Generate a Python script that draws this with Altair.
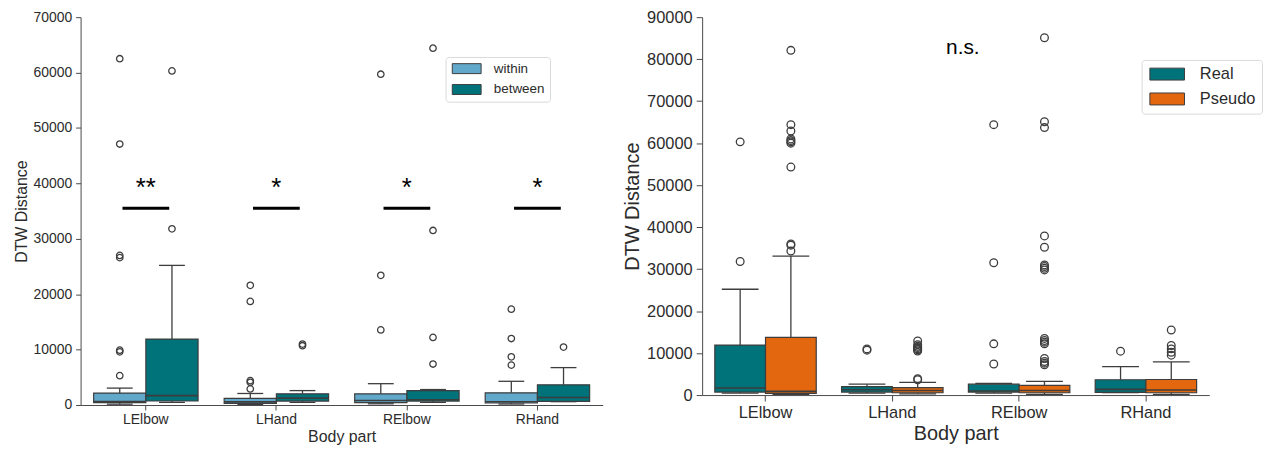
import altair as alt
import pandas as pd

FONT = "Liberation Sans"
DARK = "#3d3d3d"
AXC = "#4a4a4a"
TXT = "#2b2b2b"

parts = ["LElbow", "LHand", "RElbow", "RHand"]

# ---------- left panel: within vs between ----------
left_groups = ["within", "between"]
left_colors = ["#62a8ca", "#00727a"]

within_lo = [150, 100, 220, 180]
within_q1 = [420, 280, 420, 360]
within_med = [620, 560, 820, 600]
within_q3 = [2150, 1200, 2020, 2200]
within_hi = [3050, 2080, 3850, 4280]
within_out = {
    "LElbow": [5300, 9600, 9900, 26600, 27000, 47100, 62500],
    "LHand": [2900, 4100, 4400, 18700, 21600],
    "RElbow": [13550, 23400, 59700],
    "RHand": [7200, 8700, 12000, 17300],
}

between_lo = [480, 480, 480, 600]
between_q1 = [720, 710, 710, 650]
between_med = [1700, 1250, 950, 1350]
between_q3 = [11900, 2020, 2600, 3650]
between_hi = [25200, 2600, 2790, 6750]
between_out = {
    "LElbow": [31800, 60300],
    "LHand": [10700, 11000],
    "RElbow": [7400, 12200, 31500, 64400],
    "RHand": [10450],
}

sig_labels = ["**", "*", "*", "*"]
sig_line_y = [35500, 35500, 35500, 35500]
sig_star_y = [37800, 37800, 37800, 37800]

# ---------- right panel: Real vs Pseudo ----------
right_groups = ["Real", "Pseudo"]
right_colors = ["#00727a", "#e2670f"]

real_lo = between_lo
real_q1 = between_q1
real_med = between_med
real_q3 = between_q3
real_hi = between_hi
real_out = between_out

pseudo_lo = [160, 300, 160, 160]
pseudo_q1 = [400, 550, 550, 550]
pseudo_med = [870, 1100, 1100, 1200]
pseudo_q3 = [13750, 1750, 2300, 3700]
pseudo_hi = [33100, 3000, 3250, 7900]
pseudo_out = {
    "LElbow": [34300, 35700, 36000, 54300, 60000, 60300, 60600, 61000, 62900, 64400, 82100],
    "LHand": [3650, 3900, 10500, 10800, 11000, 11300, 11600, 12000, 12900],
    "RElbow": [7200, 7600, 8000, 8700, 12200, 12600, 13000, 13500, 29800, 30200, 30600,
               31000, 35200, 37900, 63700, 65100, 85100],
    "RHand": [9500, 10200, 11000, 11800, 15500],
}

ns_label = ["n.s."]
ns_part = ["LHand"]
ns_y = [81300]


def box_table(groups, stats):
    rows = []
    for g, (lo, q1, med, q3, hi) in zip(groups, stats):
        for i, p in enumerate(parts):
            rows.append(dict(part=p, group=g, lo=lo[i], q1=q1[i], med=med[i], q3=q3[i], hi=hi[i]))
    return pd.DataFrame(rows)


def out_table(groups, outs):
    rows = []
    for g, o in zip(groups, outs):
        for p in parts:
            for v in o[p]:
                rows.append(dict(part=p, group=g, value=v))
    return pd.DataFrame(rows)


LEG_PATH = "M-1,-1H4.8V1H-1Z"


def panel(box_df, out_df, groups, colors, ymax, fs_lab, fs_title, cap_w,
          pt_size, tick, lab_pad, title_pad_y, title_pad_x, leg):
    xs = alt.Scale(domain=parts, paddingInner=0.2, paddingOuter=0.1)
    xaxis = alt.Axis(labelAngle=0, labelFontSize=fs_lab, labelColor=TXT, labelFont=FONT,
                     titleFontSize=fs_title, titleColor=TXT, titleFont=FONT,
                     titleFontWeight="normal", domainColor=AXC, tickColor=AXC,
                     tickSize=tick, labelPadding=lab_pad, titlePadding=title_pad_x,
                     grid=False)
    x = alt.X("part:N", scale=xs, axis=xaxis, title="Body part")
    xo = alt.XOffset("group:N", scale=alt.Scale(domain=groups, paddingInner=0, paddingOuter=0))
    ys = alt.Scale(domain=[0, ymax], nice=False, zero=True)
    yaxis = alt.Axis(values=list(range(0, ymax + 1, 10000)), format="d", grid=False,
                     labelFontSize=fs_lab, labelColor=TXT, labelFont=FONT,
                     titleFontSize=fs_title, titleColor=TXT, titleFont=FONT,
                     titleFontWeight="normal", domainColor=AXC, tickColor=AXC,
                     tickSize=tick, labelPadding=4, titlePadding=title_pad_y)
    base = alt.Chart(box_df)
    lower = base.mark_rule(color=DARK, strokeWidth=1.3, opacity=1).encode(
        x=x, xOffset=xo, y=alt.Y("lo:Q", scale=ys, axis=yaxis, title="DTW Distance"), y2="q1:Q")
    upper = base.mark_rule(color=DARK, strokeWidth=1.3, opacity=1).encode(
        x=x, xOffset=xo, y=alt.Y("q3:Q"), y2="hi:Q")
    cap_lo = base.mark_tick(color=DARK, size=cap_w, thickness=1.3, opacity=1).encode(
        x=x, xOffset=xo, y=alt.Y("lo:Q"))
    cap_hi = base.mark_tick(color=DARK, size=cap_w, thickness=1.3, opacity=1).encode(
        x=x, xOffset=xo, y=alt.Y("hi:Q"))
    box = base.mark_bar(stroke=DARK, strokeWidth=1.2, opacity=1).encode(
        x=x, xOffset=xo, y=alt.Y("q1:Q"), y2="q3:Q",
        color=alt.Color("group:N", scale=alt.Scale(domain=groups, range=colors), legend=leg))
    med = base.mark_tick(color=DARK, thickness=1.6, opacity=1).encode(
        x=x, xOffset=xo, y=alt.Y("med:Q"))
    pts = alt.Chart(out_df).mark_point(shape="circle", filled=False, color=DARK,
                                        size=pt_size, strokeWidth=1.3, opacity=1).encode(
        x=x, xOffset=xo, y=alt.Y("value:Q"))
    return [lower, upper, cap_lo, cap_hi, box, med, pts], x


left_box = box_table(left_groups, [
    (within_lo, within_q1, within_med, within_q3, within_hi),
    (between_lo, between_q1, between_med, between_q3, between_hi)])
left_out = out_table(left_groups, [within_out, between_out])

right_box = box_table(right_groups, [
    (real_lo, real_q1, real_med, real_q3, real_hi),
    (pseudo_lo, pseudo_q1, pseudo_med, pseudo_q3, pseudo_hi)])
right_out = out_table(right_groups, [real_out, pseudo_out])

left_leg = alt.Legend(title=None, orient="none", legendX=367, legendY=40,
                      fillColor="white", strokeColor="#d9d9d9", cornerRadius=3, padding=5,
                      labelFontSize=13.5, labelFont=FONT, labelColor=TXT,
                      symbolType=LEG_PATH, symbolSize=100, symbolStrokeColor=DARK,
                      symbolStrokeWidth=1, symbolOpacity=1, labelOffset=30, rowPadding=6)
right_leg = alt.Legend(title=None, orient="none", legendX=442, legendY=43,
                       fillColor="white", strokeColor="#d9d9d9", cornerRadius=3, padding=6,
                       labelFontSize=16.5, labelFont=FONT, labelColor=TXT,
                       symbolType=LEG_PATH, symbolSize=144, symbolStrokeColor=DARK,
                       symbolStrokeWidth=1, symbolOpacity=1, labelOffset=36, rowPadding=8)

l_layers, lx = panel(left_box, left_out, left_groups, left_colors, 70000,
                     14, 16, 26, 42, 5, 3, 3, 2, left_leg)
sig_df = pd.DataFrame(dict(part=parts, label=sig_labels, line_y=sig_line_y, star_y=sig_star_y))
sig_line = alt.Chart(sig_df).mark_tick(color="black", size=47, thickness=3, opacity=1).encode(
    x=lx, y=alt.Y("line_y:Q"))
sig_star = alt.Chart(sig_df).mark_text(color="black", fontSize=26, font=FONT,
                                       baseline="alphabetic").encode(
    x=lx, y=alt.Y("star_y:Q"), text="label:N")
left = alt.layer(*l_layers, sig_line, sig_star).properties(width=525, height=390)

r_layers, rx = panel(right_box, right_out, right_groups, right_colors, 90000,
                     16.5, 20, 37, 60, 6, 4, 4, 2, right_leg)
ns_df = pd.DataFrame(dict(part=ns_part, label=ns_label, y=ns_y))
ns_text = alt.Chart(ns_df).mark_text(color="black", fontSize=21, font=FONT, align="left",
                                     baseline="alphabetic", dx=54).encode(
    x=rx, y=alt.Y("y:Q"), text="label:N")
right = alt.layer(*r_layers, ns_text).properties(width=510, height=380)

chart = alt.hconcat(left, right, spacing=20).resolve_scale(
    color="independent", x="independent", y="independent", xOffset="independent"
).properties(
    padding={"left": 6, "top": 0, "right": 0, "bottom": 0}
).configure(font=FONT).configure_view(stroke="transparent", strokeWidth=0)

chart.save("out.html", embed_options={"renderer": "svg", "actions": False})
